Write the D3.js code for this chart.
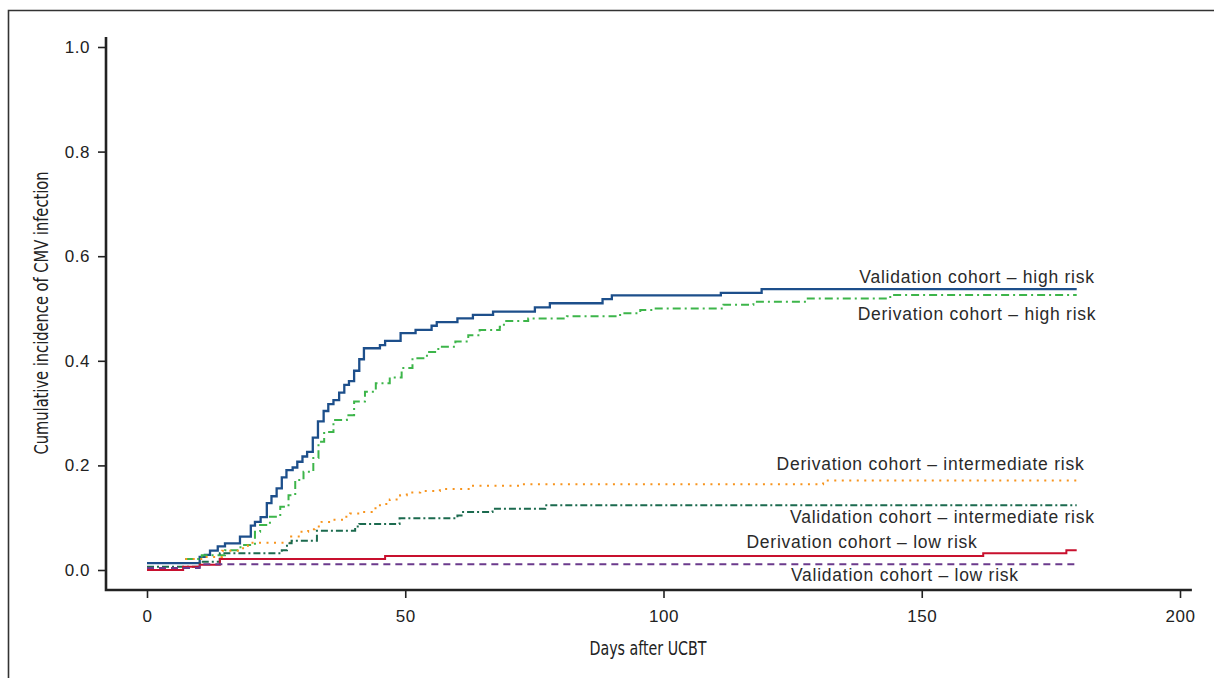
<!DOCTYPE html>
<html>
<head>
<meta charset="utf-8">
<script src="https://cdn.jsdelivr.net/npm/d3@7"></script>
<style>
  html, body { margin: 0; padding: 0; background: #fff; }
  svg { display: block; }
  .tick text { font-family: "Liberation Sans", Arial, sans-serif; font-size: 17px; letter-spacing: 0.5px; fill: #222; }
  .axis-title { font-family: "Liberation Sans Narrow", "DejaVu Sans Condensed", sans-serif; font-size: 19px; fill: #222; }
  .curve-label { font-family: "Liberation Sans", Arial, sans-serif; font-size: 17.5px; letter-spacing: 0.75px; fill: #2a2a2a; }
</style>
</head>
<body>
<div id="chart"></div>
<script>
// step points: [day, cumulative incidence]
const validationHigh = [
  [0, 0.013], [10.2, 0.025], [11.2, 0.029], [12.2, 0.037], [13.7, 0.045], [15.1, 0.051],
  [18.0, 0.064], [20.1, 0.085], [20.9, 0.092], [22.0, 0.101], [23.2, 0.128], [24.1, 0.141],
  [25.1, 0.156], [26.1, 0.177], [27.0, 0.191], [28.2, 0.196], [29.1, 0.207], [30.1, 0.217],
  [31.0, 0.226], [32.1, 0.253], [33.1, 0.284], [34.2, 0.304], [35.1, 0.317], [36.1, 0.325],
  [37.2, 0.339], [38.2, 0.354], [39.1, 0.361], [40.1, 0.381], [41.1, 0.403], [42.0, 0.424],
  [45.1, 0.430], [46.1, 0.438], [49.1, 0.453], [52.0, 0.459], [55.1, 0.467], [56.1, 0.474],
  [60.1, 0.481], [63.1, 0.488], [67.0, 0.494], [75.1, 0.502], [78.0, 0.510], [88.2, 0.518],
  [90.0, 0.525], [111.1, 0.530], [119.0, 0.537], [180, 0.537]
];
const derivationHigh = [
  [7.4, 0.021], [10.6, 0.028], [15.1, 0.038], [18.1, 0.048], [20.9, 0.073], [21.9, 0.086],
  [23.8, 0.102], [25.8, 0.121], [27.4, 0.143], [28.7, 0.172], [30.3, 0.188], [32.2, 0.214],
  [33.2, 0.245], [34.3, 0.264], [36.1, 0.287], [38.7, 0.296], [40.1, 0.322], [42.2, 0.341],
  [44.3, 0.357], [47.0, 0.368], [49.3, 0.386], [51.4, 0.405], [54.2, 0.417], [56.4, 0.427],
  [59.7, 0.437], [62.2, 0.449], [64.4, 0.459], [68.3, 0.465], [69.1, 0.476], [73.8, 0.481],
  [81.3, 0.485], [91.6, 0.491], [95.5, 0.497], [98.0, 0.500], [111.6, 0.507], [117.4, 0.513],
  [127.7, 0.519], [143.9, 0.526], [180, 0.526]
];
const derivationInter = [
  [7.4, 0.021], [11.1, 0.025], [14.5, 0.037], [18.6, 0.046], [19.5, 0.052], [27.9, 0.064],
  [29.6, 0.073], [31.2, 0.078], [32.5, 0.083], [33.8, 0.092], [35.8, 0.096], [38.0, 0.102],
  [39.3, 0.108], [41.2, 0.111], [43.5, 0.118], [45.1, 0.126], [47.0, 0.135], [49.0, 0.143],
  [50.3, 0.148], [52.9, 0.151], [56.7, 0.155], [62.9, 0.161], [72.2, 0.164], [130.9, 0.171],
  [180, 0.171]
];
const validationInter = [
  [0, 0.006], [10.2, 0.016], [14.1, 0.032], [26.1, 0.038], [27.1, 0.051], [28.0, 0.056],
  [32.9, 0.075], [40.3, 0.083], [41.1, 0.088], [48.9, 0.099], [60.1, 0.104], [60.9, 0.111],
  [66.9, 0.117], [77.1, 0.124], [180, 0.124]
];
const derivationLow = [
  [0, 0.0], [7.0, 0.006], [10.2, 0.010], [14.1, 0.021], [46.1, 0.027], [161.9, 0.032],
  [178.0, 0.038], [180, 0.038]
];
const validationLow = [
  [0, 0.004], [10.2, 0.011], [180, 0.011]
];

const xTicks = [0, 50, 100, 150, 200];
const yTicks = [0.0, 0.2, 0.4, 0.6, 0.8, 1.0];

const seriesNames = [
  "Validation cohort – high risk",
  "Derivation cohort – high risk",
  "Derivation cohort – intermediate risk",
  "Validation cohort – intermediate risk",
  "Derivation cohort – low risk",
  "Validation cohort – low risk"
];
const seriesData = [validationHigh, derivationHigh, derivationInter, validationInter, derivationLow, validationLow];
const seriesColors = ["#1d4f8b", "#3db54a", "#f7941d", "#1b6a4e", "#c8102e", "#6b3a8c"];
const seriesDash = [null, "8,4,2,4", "2,5.5", "7,3,2,3", null, "7,5"];
// label anchor (right end) in data units
const labelDay = [183.5, 183.8, 181.5, 183.5, 160.8, 168.8];
const labelVal = [0.557, 0.486, 0.2, 0.099, 0.051, -0.013];

const W = 1214, H = 678;
const svg = d3.select("#chart").append("svg").attr("width", W).attr("height", H);

// frame
svg.append("path")
  .attr("d", "M8.5,678 L8.5,10.5 L1214,10.5")
  .attr("fill", "none").attr("stroke", "#333").attr("stroke-width", 1.6);

const x = d3.scaleLinear().domain([0, 200]).range([147, 1180]);
const y = d3.scaleLinear().domain([0, 1]).range([570, 47]);

const axisX0 = 106, axisY0 = 590;

const gx = svg.append("g").attr("transform", `translate(0,${axisY0})`)
  .call(d3.axisBottom(x).tickValues(xTicks).tickSize(8).tickPadding(12).tickFormat(d3.format("d")));
gx.select(".domain").remove();
gx.selectAll(".tick line").attr("stroke", "#222").attr("stroke-width", 1.6);

const gy = svg.append("g").attr("transform", `translate(${axisX0},0)`)
  .call(d3.axisLeft(y).tickValues(yTicks).tickSize(8).tickPadding(8).tickFormat(d3.format(".1f")));
gy.select(".domain").remove();
gy.selectAll(".tick line").attr("stroke", "#222").attr("stroke-width", 1.6);

// axis lines (extended beyond data range, as in the original)
svg.append("path")
  .attr("d", `M${axisX0},${y(1.019)} L${axisX0},${axisY0} L${x(202.3)},${axisY0}`)
  .attr("fill", "none").attr("stroke", "#222").attr("stroke-width", 2.6);

const line = d3.line()
  .x(d => x(d[0]))
  .y(d => y(d[1]))
  .curve(d3.curveStepAfter);

seriesData.forEach((data, i) => {
  svg.append("path")
    .datum(data)
    .attr("fill", "none")
    .attr("stroke", seriesColors[i])
    .attr("stroke-width", i === 0 ? 2.3 : 2)
    .attr("stroke-dasharray", seriesDash[i])
    .attr("d", line);
});

seriesNames.forEach((name, i) => {
  svg.append("text")
    .attr("class", "curve-label")
    .attr("x", x(labelDay[i]))
    .attr("y", y(labelVal[i]))
    .attr("text-anchor", "end")
    .attr("dominant-baseline", "middle")
    .text(name);
});

// condensed titles, squeezed to the original width
svg.append("text")
  .attr("class", "axis-title")
  .attr("x", 648).attr("y", 655)
  .attr("text-anchor", "middle")
  .attr("textLength", 117)
  .attr("lengthAdjust", "spacingAndGlyphs")
  .text("Days after UCBT");

svg.append("text")
  .attr("class", "axis-title")
  .attr("transform", `translate(48,${313}) rotate(-90)`)
  .attr("text-anchor", "middle")
  .attr("textLength", 283)
  .attr("lengthAdjust", "spacingAndGlyphs")
  .text("Cumulative incidence of CMV infection");
</script>
</body>
</html>
